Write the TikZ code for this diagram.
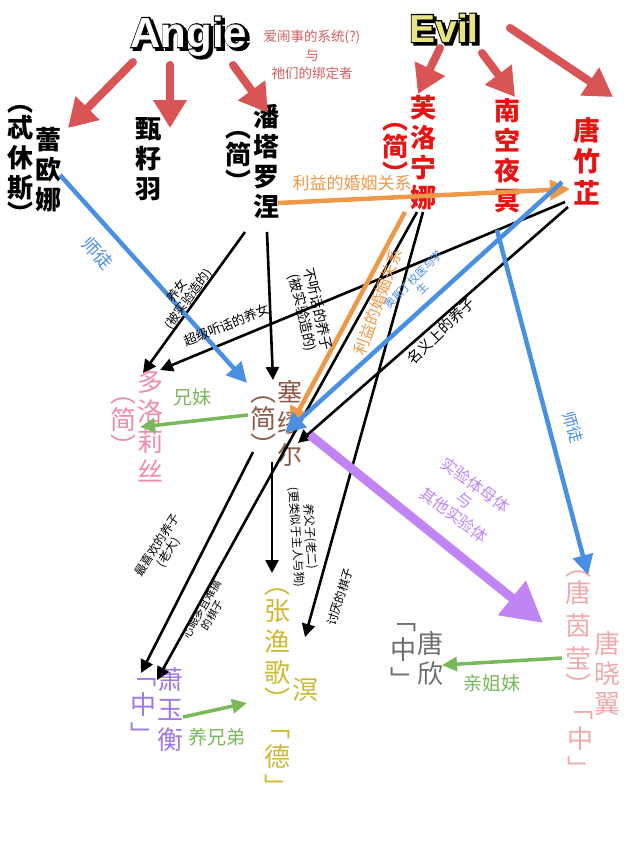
\documentclass[tikz,border=0pt]{standalone}
\usepackage{fontspec}
\setmainfont{Liberation Sans}
\newfontfamily\outfont{Liberation Sans}[BoldFeatures={FakeBold=6}]
\newfontfamily\cjk{Noto Sans CJK SC}
\usetikzlibrary{arrows.meta}
\definecolor{arrred}{RGB}{217,84,84}
\definecolor{evilred}{RGB}{232,20,20}
\definecolor{notered}{RGB}{212,92,92}
\definecolor{orng}{RGB}{238,153,72}
\definecolor{blu}{RGB}{74,144,226}
\definecolor{purp}{RGB}{192,132,245}
\definecolor{grn}{RGB}{120,185,90}
\definecolor{pinkd}{RGB}{240,140,172}
\definecolor{brwn}{RGB}{140,90,70}
\definecolor{olive}{RGB}{205,185,50}
\definecolor{violetb}{RGB}{160,120,230}
\definecolor{gry}{RGB}{110,110,110}
\definecolor{lpink}{RGB}{240,170,170}
\definecolor{evily}{RGB}{232,228,130}
\tikzset{
  bname/.style={font=\cjk\bfseries\fontsize{26}{30}\selectfont, align=center, inner sep=0pt},
  mname/.style={font=\cjk\fontsize{26}{30}\selectfont, align=center, inner sep=0pt},
  lbl/.style={font=\cjk\fontsize{12}{13.5}\selectfont, align=center, inner sep=0pt},
  clbl/.style={font=\cjk\fontsize{19}{21}\selectfont, align=center, inner sep=0pt},
  redarr/.style={draw=arrred, line width=8pt, line cap=round, -{Triangle[length=28pt,width=32pt]}},
  blkarr/.style={draw=black, line width=2.6pt, -{Triangle[length=13pt,width=13pt]}},
  orarr/.style={draw=orng, line width=4.5pt, -{Triangle[length=20pt,width=20pt]}},
  bluarr/.style={draw=blu, line width=4.5pt, -{Triangle[length=20pt,width=20pt]}},
  purarr/.style={draw=purp, line width=9pt, -{Triangle[length=40pt,width=42pt]}},
  grnarr/.style={draw=grn, line width=3.5pt, -{Triangle[length=15pt,width=14pt]}},
  angiefont/.style={font=\fontsize{42}{44}\selectfont\bfseries, inner sep=0pt, anchor=base},
  angieout/.style={font=\outfont\fontsize{42}{44}\selectfont\bfseries, inner sep=0pt, anchor=base, text=black},
  evilfont/.style={font=\fontsize{39}{41}\selectfont\bfseries, inner sep=0pt, anchor=base},
  evilout/.style={font=\outfont\fontsize{39}{41}\selectfont\bfseries, inner sep=0pt, anchor=base, text=black},
}
\begin{document}
\begin{tikzpicture}[x=1pt,y=-1pt]
\fill[white] (0,0) rectangle (640,854);
\useasboundingbox (0,0) rectangle (640,854);

% ---- title words ----
\node[angieout] (angieshadow) at (191.5,49.5) {Angie};
\node[angieout] (angieline) at (189,47) {Angie};
\node[angiefont, text=white] (angie) at (189,47) {Angie};
\node[evilout] (evilshadow) at (446.5,44.5) {Evil};
\node[evilout] (evilline) at (444,42) {Evil};
\node[evilfont, text=evily] (evil) at (444,42) {Evil};

\node[font=\cjk\fontsize{13.5}{18.5}\selectfont, text=notered, align=center, inner sep=0pt] (note) at (312,55) {爱闹事的系统(?)\\与\\祂们的绑定者};

% ---- names ----
\node[bname] (leona) at (48,170) {蕾\\欧\\娜};
\node[bname] (theseus) at (20,164) {︵\\[-4pt]忒\\休\\斯\\[-4pt]︶};
\node[bname] (zhen) at (148,159) {甄\\籽\\羽};
\node[bname] (panta) at (266,161) {潘\\塔\\罗\\涅};
\node[bname] (pantaj) at (238,161) {︵\\[-3pt]简\\[-3pt]︶};
\node[bname, text=evilred] (furina) at (423,153) {芙\\洛\\宁\\娜};
\node[bname, text=evilred] (furinaj) at (395,153) {︵\\[-3pt]简\\[-3pt]︶};
\node[bname, text=evilred] (nankong) at (507,156) {南\\空\\夜\\冥};
\node[bname, text=evilred, font=\cjk\bfseries\fontsize{27}{31.5}\selectfont] (zhuzhi) at (587,161) {唐\\竹\\芷};

\node[mname, text=pinkd] (dolores) at (150,426) {多\\洛\\莉\\丝};
\node[mname, text=pinkd] (doloresj) at (123,427) {︵\\[-3pt]简\\[-3pt]︶};
\node[mname, text=brwn, font=\cjk\fontsize{25}{31.5}\selectfont] (samuel) at (290,423) {塞\\缪\\尔};
\node[mname, text=brwn] (samuelj) at (263,426) {︵\\[-3pt]简\\[-3pt]︶};
\node[mname, text=olive, font=\cjk\fontsize{26}{31}\selectfont] (zhang) at (277,649) {︵\\[-4pt]张\\渔\\歌\\[-4pt]︶};
\node[mname, text=olive] (mingyu) at (305,690) {溟};
\node[mname, text=olive] (de) at (277,763) {﹁\\德\\﹂};
\node[mname, text=violetb] (xiao) at (170,710) {萧\\玉\\衡};
\node[mname, text=violetb] (xiaoz) at (143,712) {﹁\\中\\﹂};
\node[mname, text=gry] (tangxin) at (430,658) {唐\\欣};
\node[mname, text=gry] (tangxinz) at (403,657) {﹁\\中\\﹂};
\node[mname, text=lpink, font=\cjk\fontsize{26}{33}\selectfont] (yinying) at (578,633) {︵\\[-6pt]唐\\茵\\莹\\[-6pt]︶};
\node[mname, text=lpink] (xiaoyi) at (607,673) {唐\\晓\\翼};
\node[mname, text=lpink] (xiaoyiz) at (580,745) {﹁\\中\\﹂};

% ---- connector end points ----
\coordinate (ag1) at (133,62);  \coordinate (le1) at (68,128);
\coordinate (ag2) at (170,65);  \coordinate (zh1) at (170,128);
\coordinate (ag3) at (233,65);  \coordinate (pa1) at (268,113);
\coordinate (ev1) at (440,48);  \coordinate (fu1) at (418,94);
\coordinate (ev2) at (482,53);  \coordinate (na1) at (515,97);
\coordinate (ev3) at (510,28);  \coordinate (zz1) at (613,97);

\coordinate (pa2) at (278,203); \coordinate (zz2) at (570,189);
\coordinate (fu2) at (405,212); \coordinate (sa1) at (290,427);
\coordinate (le2) at (60,175);  \coordinate (sa2) at (247,383);
\coordinate (zz3) at (562,182); \coordinate (sa3) at (285,433);
\coordinate (na2) at (497,230); \coordinate (yy1) at (588,575);

\coordinate (pa3) at (245,232); \coordinate (do1) at (143,373);
\coordinate (pa4) at (267,232); \coordinate (sa4) at (273,380);
\coordinate (zz4) at (565,202); \coordinate (do2) at (160,370);
\coordinate (zz5) at (568,207); \coordinate (sa5) at (298,443);
\coordinate (fu3) at (417,212); \coordinate (xi1) at (157,680);
\coordinate (fu4) at (423,212); \coordinate (zg1) at (305,637);
\coordinate (sa6) at (253,452); \coordinate (xi2) at (141,673);
\coordinate (sa7) at (272,462); \coordinate (zg2) at (272,573);
\coordinate (sa8) at (310,435); \coordinate (yy2) at (543,623);
\coordinate (sa9) at (248,415); \coordinate (do3) at (140,427);
\coordinate (xi3) at (183,717); \coordinate (zg3) at (247,703);
\coordinate (yy3) at (562,658); \coordinate (tx1) at (442,665);

% ---- red arrows ----
\draw[redarr] (ag1) -- (le1);
\draw[redarr] (ag2) -- (zh1);
\draw[redarr] (ag3) -- (pa1);
\draw[redarr] (ev1) -- (fu1);
\draw[redarr] (ev2) -- (na1);
\draw[redarr] (ev3) -- (zz1);

% ---- black arrows ----
\draw[blkarr] (pa3) -- (do1);
\draw[blkarr] (pa4) -- (sa4);
\draw[blkarr] (zz4) -- (do2);
\draw[blkarr] (zz5) -- (sa5);
\draw[blkarr] (fu3) -- (xi1);
\draw[blkarr] (fu4) -- (zg1);
\draw[blkarr] (sa6) -- (xi2);
\draw[blkarr] (sa7) -- (zg2);

% ---- coloured arrows ----
\draw[orarr] (pa2) -- (zz2);
\draw[orarr] (fu2) -- (sa1);
\draw[bluarr] (le2) -- (sa2);
\draw[bluarr] (zz3) -- (sa3);
\draw[bluarr] (na2) -- (yy1);
\draw[purarr] (sa8) -- (yy2);
\draw[grnarr] (sa9) -- (do3);
\draw[grnarr] (xi3) -- (zg3);
\draw[grnarr] (yy3) -- (tx1);

% ---- labels ----
\node[clbl, text=orng, font=\cjk\fontsize{17}{19}\selectfont] (l-marr1) at (352,183) {利益的婚姻关系};
\node[clbl, text=orng, font=\cjk\fontsize{16}{18}\selectfont, rotate=70] (l-marr2) at (378,302) {利益的婚姻关系};
\node[clbl, text=blu, font=\cjk\fontsize{18}{20}\selectfont, rotate=-48] (l-shitu1) at (98,253) {师徒};
\node[clbl, text=blu, font=\cjk\fontsize{11}{13}\selectfont, rotate=45] (l-doc) at (418,284) {奥斯丁校医与学\\生};
\node[clbl, text=blu, font=\cjk\fontsize{16}{18}\selectfont, rotate=-75] (l-shitu2) at (573,427) {师徒};
\node[lbl, font=\cjk\fontsize{12.5}{14}\selectfont, rotate=54] (l-yangnv) at (183,295) {养女\\(被实验造的)};
\node[lbl, font=\cjk\fontsize{14}{16}\selectfont, rotate=-77] (l-buting) at (310,311) {不听话的养子\\(被实验造的)};
\node[lbl, font=\cjk\fontsize{13}{15}\selectfont, rotate=22] (l-chaoji) at (227,325) {超级听话的养女};
\node[lbl, font=\cjk\fontsize{14.5}{16}\selectfont, rotate=44] (l-mingyi) at (441,331) {名义上的养子};
\node[lbl, font=\cjk\fontsize{10.8}{12}\selectfont, rotate=60] (l-xinyan) at (207,612) {心眼多且难搞\\的棋子};
\node[lbl, rotate=72] (l-taoyan) at (340,597) {讨厌的棋子};
\node[lbl, rotate=57] (l-zuixi) at (163,549) {最喜欢的养子\\(老大)};
\node[lbl, font=\cjk\fontsize{11.5}{14}\selectfont, rotate=-86] (l-yangfu) at (303,537) {养父子(老二)\\(更类似于主人与狗)};
\node[clbl, text=purp, font=\cjk\fontsize{16}{18.5}\selectfont, rotate=-36] (l-shiyan) at (465,500) {实验体母体\\与\\其他实验体};
\node[clbl, text=grn] (l-xiongmei) at (192,397) {兄妹};
\node[clbl, text=grn] (l-yangxd) at (217,737) {养兄弟};
\node[clbl, text=grn] (l-qinjm) at (492,683) {亲姐妹};
\end{tikzpicture}
\end{document}
